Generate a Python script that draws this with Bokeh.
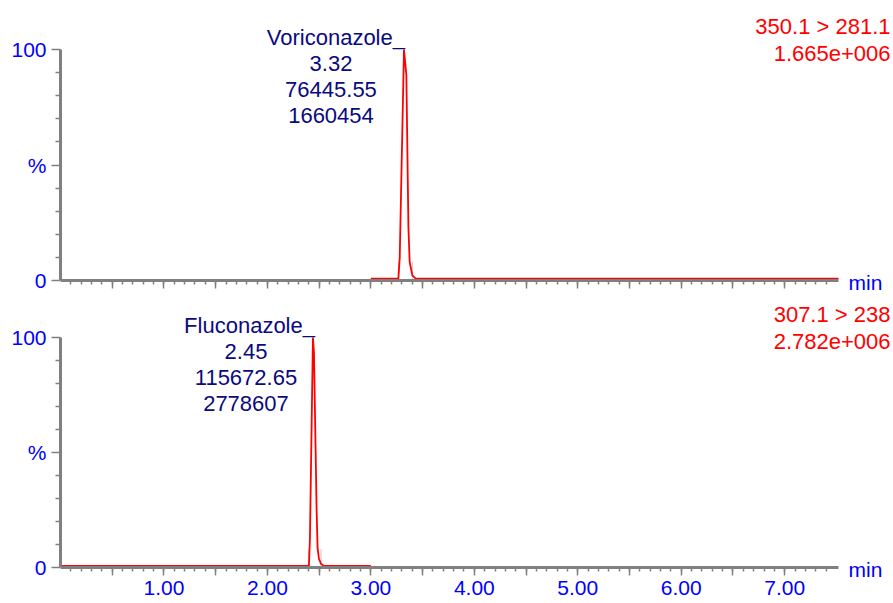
from bokeh.plotting import figure
from bokeh.layouts import column
from bokeh.models import Range1d, FixedTicker, CustomJSTickFormatter, Label
from bokeh.embed import file_html
from bokeh.resources import INLINE

# ---------------- data ----------------
vori_time = [3.00, 3.266, 3.279, 3.320, 3.343, 3.363, 3.375, 3.401, 3.433, 7.52]
vori_pct = [0.8, 0.8, 10.0, 100.0, 89.0, 23.0, 8.0, 2.2, 0.8, 0.8]
fluc_time = [0.00, 2.401, 2.411, 2.440, 2.450, 2.476, 2.485, 2.498, 2.518, 2.546, 3.00]
fluc_pct = [0.7, 0.7, 12.6, 100.0, 93.6, 24.0, 8.4, 3.8, 1.6, 0.7, 0.7]
vori_marks = [3.266, 3.401]
fluc_marks = [2.401, 2.518]

peak_names = ["Voriconazole_", "Fluconazole_"]
peak_rt = ["3.32", "2.45"]
peak_area = ["76445.55", "115672.65"]
peak_height = ["1660454", "2778607"]
transitions = ["350.1 > 281.1", "307.1 > 238"]
intensities = ["1.665e+006", "2.782e+006"]

x_major_ticks = [0.5, 1.0, 1.5, 2.0, 2.5, 3.0, 3.5, 4.0, 4.5, 5.0, 5.5, 6.0, 6.5, 7.0]
x_minor_ticks = [round(0.1 * i, 1) for i in range(1, 75)]
y_major_ticks = [0, 50, 100]
y_minor_ticks = [10, 20, 30, 40, 60, 70, 80, 90]

X_AXIS_END = 7.52
FONT = "Liberation Sans"
GRAY = "#808080"
BLUE = "#0000FF"
NAVY = "#0A0A80"
RED = "#FF0000"

LEFT = 60          # frame left (px)
AXIS_PX = 778      # pixel length of 0..X_AXIS_END
WIDTH = 893


def make_panel(height, px_0, px_100, show_x_labels, times, pcts, marks, idx):
    per = (px_0 - px_100) / 100.0
    y_start = -(height - px_0) / per
    y_end = 100.0 + px_100 / per
    x_end = X_AXIS_END * (WIDTH - LEFT) / AXIS_PX
    p = figure(width=WIDTH, height=height, x_range=Range1d(0, x_end),
               y_range=Range1d(y_start, y_end),
               output_backend="svg", toolbar_location=None,
               min_border_left=LEFT, min_border_right=0,
               min_border_top=0, min_border_bottom=0)
    p.outline_line_color = None
    p.grid.visible = False
    p.background_fill_color = "white"
    p.border_fill_color = "white"

    # x axis (drawn at y = 0 inside the frame)
    xa = p.xaxis[0]
    xa.fixed_location = 0
    xa.bounds = (0, X_AXIS_END)
    xa.ticker = FixedTicker(ticks=x_major_ticks, minor_ticks=x_minor_ticks)
    xa.axis_line_color = GRAY
    xa.axis_line_width = 3
    xa.major_tick_line_color = GRAY
    xa.major_tick_line_width = 1.5
    xa.minor_tick_line_color = GRAY
    xa.minor_tick_line_width = 1.5
    xa.major_tick_in = 0
    xa.major_tick_out = 8
    xa.minor_tick_in = 0
    xa.minor_tick_out = 4
    xa.major_label_text_color = BLUE
    xa.major_label_text_font = FONT
    xa.major_label_standoff = 5
    if show_x_labels:
        xa.formatter = CustomJSTickFormatter(
            code="return (Math.abs(tick - Math.round(tick)) < 1e-6) ? tick.toFixed(2) : '';")
        xa.major_label_text_font_size = "21px"
    else:
        xa.formatter = CustomJSTickFormatter(code="return '';")
        xa.major_label_text_font_size = "0px"

    # y axis
    ya = p.yaxis[0]
    ya.bounds = (0, 100)
    ya.ticker = FixedTicker(ticks=y_major_ticks, minor_ticks=y_minor_ticks)
    ya.formatter = CustomJSTickFormatter(code="return tick == 50 ? '%' : tick.toFixed(0);")
    ya.axis_line_color = GRAY
    ya.axis_line_width = 3
    ya.major_tick_line_color = GRAY
    ya.major_tick_line_width = 1.5
    ya.minor_tick_line_color = GRAY
    ya.minor_tick_line_width = 1.5
    ya.major_tick_in = 0
    ya.major_tick_out = 9
    ya.minor_tick_in = 0
    ya.minor_tick_out = 5
    ya.major_label_text_color = BLUE
    ya.major_label_text_font = FONT
    ya.major_label_text_font_size = "21px"
    ya.major_label_standoff = 5

    # integration markers
    p.segment(x0=marks, y0=[0, 0], x1=marks, y1=[8, 8], line_color="#C8C8C8", line_width=1)
    # trace
    p.line(times, pcts, line_color=RED, line_width=1.8)

    # "min"
    p.add_layout(Label(x=X_AXIS_END, y=0, x_offset=10, y_offset=-2, text="min", text_color=BLUE,
                       text_font=FONT, text_font_size="21px", text_baseline="middle"))
    # top-right channel info
    p.add_layout(Label(x=X_AXIS_END, y=100, x_offset=52, y_offset=23, text=transitions[idx],
                       text_color=RED, text_font=FONT, text_font_size="22px",
                       text_align="right", text_baseline="middle"))
    p.add_layout(Label(x=X_AXIS_END, y=100, x_offset=52, y_offset=-4, text=intensities[idx],
                       text_color=RED, text_font=FONT, text_font_size="22px",
                       text_align="right", text_baseline="middle"))
    # peak annotation
    rt = float(peak_rt[idx])
    center_off = [-73, -68][idx]
    p.add_layout(Label(x=rt, y=100, x_offset=1, y_offset=12, text=peak_names[idx],
                       text_color=NAVY, text_font=FONT, text_font_size="22px",
                       text_align="right", text_baseline="middle"))
    for txt, yo in zip([peak_rt[idx], peak_area[idx], peak_height[idx]], [-14, -40, -66]):
        p.add_layout(Label(x=rt, y=100, x_offset=center_off, y_offset=yo, text=txt,
                           text_color=NAVY, text_font=FONT, text_font_size="22px",
                           text_align="center", text_baseline="middle"))
    return p


top = make_panel(300, 280, 49, False, vori_time, vori_pct, vori_marks, 0)
bottom = make_panel(303, 267, 37, True, fluc_time, fluc_pct, fluc_marks, 1)

layout = column(top, bottom, spacing=0)
open("out.html", "w").write(file_html(layout, INLINE))
